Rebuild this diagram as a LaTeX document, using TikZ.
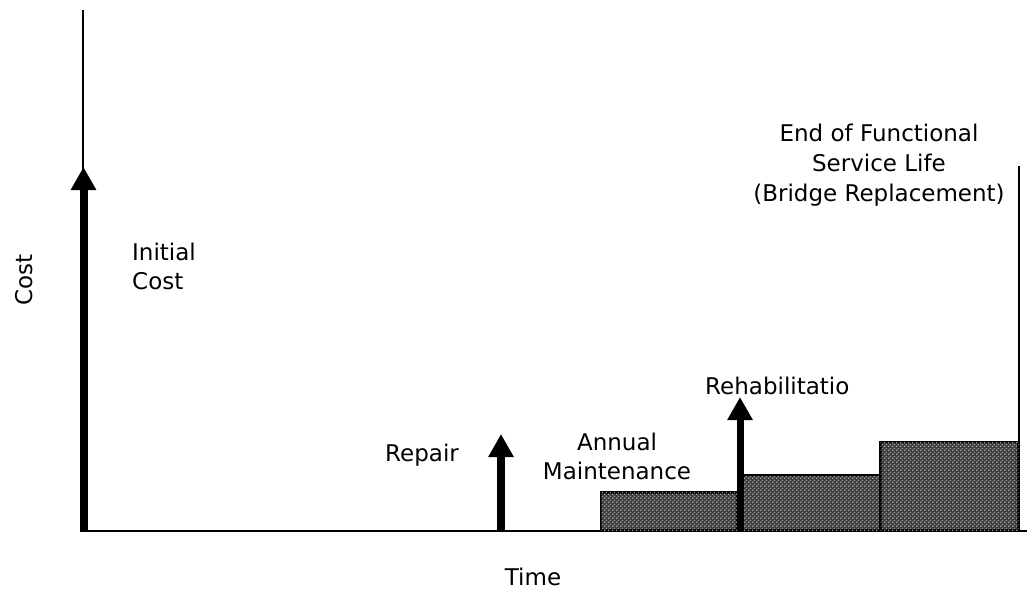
\documentclass[tikz,border=0pt]{standalone}
\usepackage{fontspec}
\setmainfont{DejaVu Sans}
\usetikzlibrary{arrows.meta,patterns}
\pgfdeclarepatternformonly{bigdots}{\pgfqpoint{0pt}{0pt}}{\pgfqpoint{4pt}{4pt}}{\pgfqpoint{4pt}{4pt}}{%
  \pgfpathrectangle{\pgfqpoint{0.2pt}{0.2pt}}{\pgfqpoint{1.5pt}{1.5pt}}%
  \pgfpathrectangle{\pgfqpoint{2.2pt}{2.2pt}}{\pgfqpoint{1.5pt}{1.5pt}}%
  \pgfusepath{fill}}
\begin{document}
\begin{tikzpicture}[x=1pt,y=-1pt,
  lbl/.style={inner sep=0pt,font=\fontsize{23}{29}\selectfont},
  cost/.style={line width=8pt,-{Triangle[width=24pt,length=23pt]}},
  axis/.style={line width=2pt},
  block/.style={draw=black,line width=2.2pt,fill=black!75,
    postaction={pattern=bigdots,pattern color=black!38}}]
\useasboundingbox (0,0) rectangle (1029,590);
% axes
\coordinate (origin) at (83,530.5);
\coordinate (ytop) at (83,10);
\coordinate (xend) at (1027,530.5);
\draw[axis] (ytop) -- (origin);
\draw[axis] (80,530.5) -- (xend);
% blocks
\draw[block] (601,530) rectangle (737,492.5);
\draw[block] (742,530) rectangle (880.5,475);
\draw[block] (880.5,530) rectangle (1018.5,442);
% end of life line
\coordinate (eolt) at (1018.5,166);
\coordinate (eolb) at (1018.5,442);
\draw[line width=2pt] (eolt) -- (eolb);
% arrows
\coordinate (ia) at (83.5,530);
\coordinate (ib) at (83.5,167);
\draw[cost] (ia) -- (ib);
\coordinate (ra) at (501,530);
\coordinate (rb) at (501,434);
\draw[cost,line width=7.5pt] (ra) -- (rb);
\coordinate (ha) at (740,530);
\coordinate (hb) at (740,397);
\draw[cost,line width=7pt] (ha) -- (hb);
% labels
\node[lbl,rotate=90] (costl) at (24,280) {Cost};
\node[lbl,align=left,anchor=west] (init) at (132,266) {Initial\\Cost};
\node[lbl] (rep) at (422,455) {Repair};
\node[lbl,align=center] (ann) at (617,456) {Annual\\Maintenance};
\node[lbl,anchor=west] (reh) at (705,386) {Rehabilitatio};
\node[lbl,align=center,font=\fontsize{23}{30}\selectfont] (eol) at (879,165) {End of Functional\\Service Life\\(Bridge Replacement)};
\node[lbl] (time) at (533,577) {Time};
\end{tikzpicture}
\end{document}
